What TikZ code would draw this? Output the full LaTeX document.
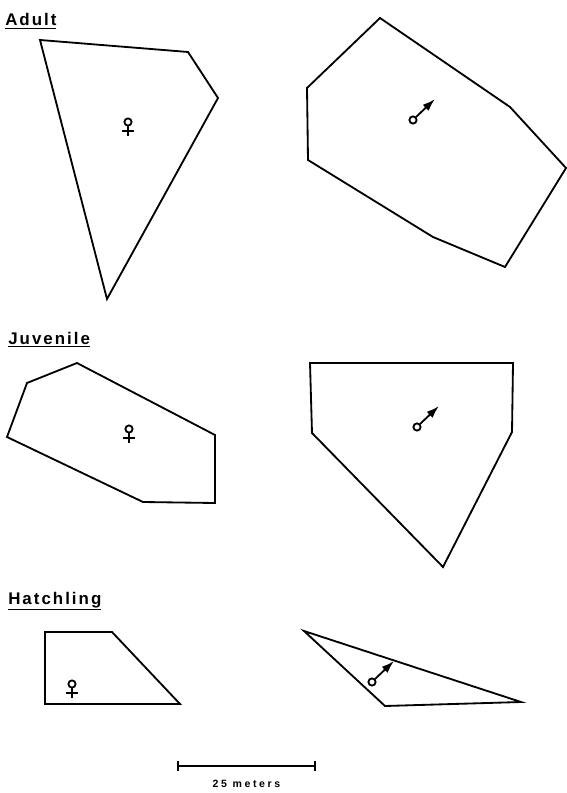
\documentclass[tikz,border=0pt]{standalone}
\usepackage{fontspec}
\usetikzlibrary{arrows.meta, positioning, calc}
\newfontfamily\headfont[LetterSpace=12]{Liberation Sans}
\newfontfamily\barfont[LetterSpace=25]{Liberation Sans}

\begin{document}
\begin{tikzpicture}[x=0.025cm, y=-0.025cm,
    homerange/.style={line width=1.3pt, line join=miter},
    heading/.style={anchor=base west, inner sep=0pt, font=\headfont\bfseries\fontsize{12}{14}\selectfont},
    sexsym/.style={line width=1.3pt}]
  \useasboundingbox (0,0) rectangle (566,793);

  % age classes
  \node[heading] (adult) at (5,26) {\underline{Adult}};
  \node[heading] (juv) at (8,344) {\underline{Juvenile}};
  \node[heading] (hatch) at (8,604) {\underline{Hatchling}};

  % home ranges
  \draw[homerange] (40,40) -- (188,52) -- (218,98) -- (107,299) -- cycle;
  \draw[homerange] (380,18) -- (510,107) -- (566,168) -- (505,267) -- (433,237) -- (308,160) -- (307,88) -- cycle;
  \draw[homerange] (77,363) -- (215,435) -- (215,503) -- (143,502) -- (7,437) -- (27,383) -- cycle;
  \draw[homerange] (310,363) -- (513,363) -- (512,432) -- (443,567) -- (312,433) -- cycle;
  \draw[homerange] (45,632) -- (112,632) -- (180,704) -- (45,704) -- cycle;
  \draw[homerange] (304,631) -- (521,702) -- (385,706) -- cycle;

  % female symbols
  \foreach \x/\y in {128/122, 129/429, 72/684} {
    \draw[sexsym] (\x,\y) circle (0.09cm);
    \draw[sexsym] (\x,\y+4) -- (\x,\y+14);
    \draw[sexsym] (\x-6,\y+9) -- (\x+6,\y+9);
  }
  % male symbols
  \foreach \x/\y in {413/120, 417/427, 372/682} {
    \draw[sexsym] (\x,\y) circle (0.09cm);
    \draw[sexsym, -{Latex[length=3.2mm, width=2.1mm]}] (\x+3,\y-3) -- (\x+22,\y-21);
  }

  % scale bar
  \coordinate (sbl) at (178,766);
  \coordinate (sbr) at (315,766);
  \coordinate (sbmid) at ($(sbl)!0.5!(sbr)$);
  \draw[line width=1.3pt] (sbl) -- (sbr);
  \draw[line width=1.3pt] ([yshift=0.12cm]sbl) -- ([yshift=-0.12cm]sbl);
  \draw[line width=1.3pt] ([yshift=0.12cm]sbr) -- ([yshift=-0.12cm]sbr);
  \node[font=\barfont\bfseries\fontsize{7.5}{9}\selectfont, below=0.22cm of sbmid] (sblabel) {25 meters};
\end{tikzpicture}
\end{document}
